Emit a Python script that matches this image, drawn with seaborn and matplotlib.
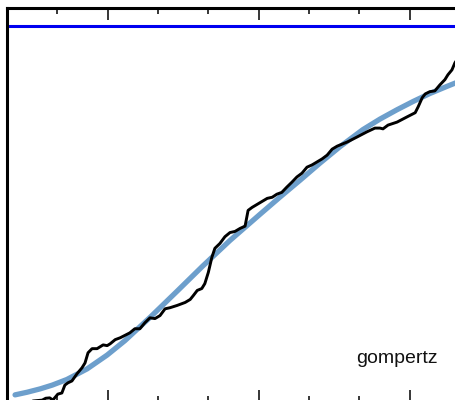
import numpy as np
import pandas as pd
import seaborn as sns
import matplotlib.pyplot as plt
from matplotlib.ticker import MultipleLocator

# observed cumulative fraction (black)
obs_day = [10.5, 14.6, 17.0, 17.7, 18.5, 19.1, 20.1, 20.9, 21.5, 22.1, 22.9, 23.9,
           24.9, 25.5, 26.1, 26.9, 27.9, 28.5, 29.1, 29.9, 30.5, 31.5, 32.5, 34.4,
           35.4, 36.4, 37.4, 38.4, 39.4, 40.4, 41.4, 42.4, 43.8, 45.4, 46.4, 47.0,
           47.8, 48.7, 49.3, 50.0, 50.7, 51.3, 52.3, 53.3, 54.3, 55.3, 56.3, 57.3,
           57.9, 58.7, 59.7, 60.7, 61.7, 62.7, 63.6, 64.6, 65.6, 66.6, 67.6, 68.6,
           69.6, 70.6, 71.6, 72.6, 73.6, 74.6, 75.6, 77.6, 79.5, 81.5, 83.1, 84.1,
           84.7, 85.7, 87.5, 89.5, 91.1, 91.7, 92.5, 93.1, 94.0, 95.0, 96.0, 97.0,
           97.6, 98.4, 99.0, 99.6]
obs_frac = [0.000, 0.002, 0.005, 0.010, 0.011, 0.005, 0.021, 0.024, 0.045, 0.051, 0.056, 0.075,
            0.091, 0.104, 0.131, 0.142, 0.142, 0.147, 0.152, 0.150, 0.155, 0.166, 0.171, 0.184,
            0.195, 0.195, 0.211, 0.224, 0.222, 0.230, 0.248, 0.251, 0.257, 0.265, 0.273, 0.283,
            0.297, 0.302, 0.315, 0.345, 0.385, 0.409, 0.422, 0.440, 0.451, 0.454, 0.462, 0.468,
            0.510, 0.518, 0.526, 0.534, 0.542, 0.545, 0.553, 0.558, 0.572, 0.585, 0.599, 0.609,
            0.625, 0.631, 0.639, 0.647, 0.657, 0.673, 0.681, 0.692, 0.705, 0.719, 0.729, 0.729,
            0.727, 0.737, 0.745, 0.759, 0.770, 0.786, 0.810, 0.820, 0.826, 0.828, 0.844, 0.858,
            0.871, 0.884, 0.903, 0.915]

# gompertz fit (light blue)
fit_day = [11.6, 14.0, 16.6, 19.0, 21.9, 25.9, 29.9, 33.4, 38.4, 43.8, 48.9, 54.3,
           60.3, 64.2, 68.2, 72.2, 76.2, 80.7, 84.1, 87.5, 90.7, 94.0, 97.4, 100.0]
fit_frac = [0.019, 0.026, 0.035, 0.045, 0.060, 0.088, 0.125, 0.163, 0.225, 0.295,
            0.362, 0.430, 0.500, 0.545, 0.590, 0.636, 0.680, 0.725, 0.753, 0.778, 0.800,
            0.821, 0.840, 0.854]

asymptote = 1.0
label = "gompertz"

sns.set_style("ticks")
plt.rcParams['font.family'] = ['Liberation Sans', 'DejaVu Sans']

fig = plt.figure(figsize=(4.56, 4.0), dpi=100)
ax = fig.add_axes([7 / 456, -2 / 400, 453 / 456, 394.5 / 400])

fit_df = pd.DataFrame({'day': fit_day, 'frac': fit_frac})
obs_df = pd.DataFrame({'day': obs_day, 'frac': obs_frac})

sns.lineplot(data=fit_df, x='day', y='frac', color='#6d9fcc', lw=3.8,
             estimator=None, ax=ax)
sns.lineplot(data=obs_df, x='day', y='frac', color='black', lw=2.1,
             estimator=None, ax=ax)
ax.axhline(asymptote, color='#0000f0', lw=2.2)

ax.set_xlim(10, 100)
ax.set_ylim(0, 1.05)
ax.xaxis.set_major_locator(MultipleLocator(30))
ax.xaxis.set_minor_locator(MultipleLocator(10))
ax.tick_params(axis='x', which='both', direction='in', top=True, bottom=True,
               labelbottom=False, width=1.1, color='black')
ax.tick_params(axis='x', which='major', length=8.5)
ax.tick_params(axis='x', which='minor', length=4)
ax.tick_params(axis='y', left=False, right=False, labelleft=False)
ax.set_xlabel('')
ax.set_ylabel('')
for s in ax.spines.values():
    s.set_visible(True)
    s.set_linewidth(2.2)
    s.set_color('black')

ax.text(0.95, 0.1, label, transform=ax.transAxes, ha='right', va='baseline',
        fontsize=14, color='#111111')

fig.savefig('out.png', dpi=100)
